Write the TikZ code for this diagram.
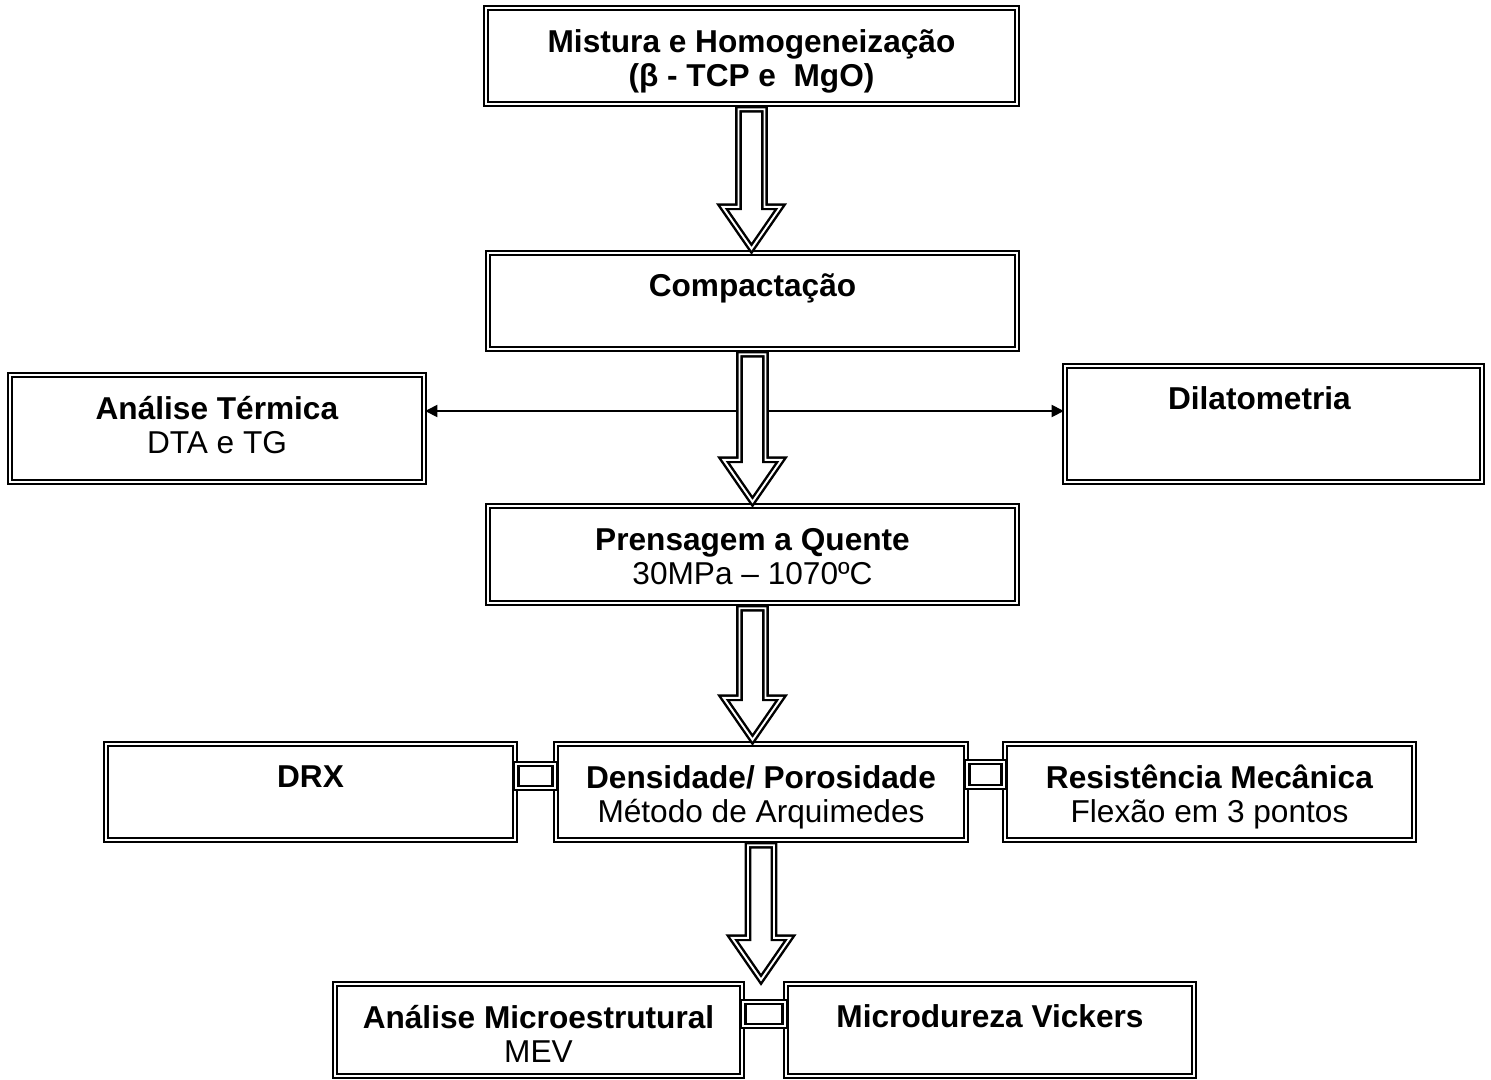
\documentclass[tikz,border=0pt]{standalone}
\usepackage{fontspec}
\setmainfont{Liberation Sans}
\usetikzlibrary{positioning,arrows.meta}
\usetikzlibrary{calc}

% hollow block arrow from the bottom of one box to the top of the next
\newcommand{\blockarrow}[2]{%
    \filldraw[hollow arrow]
        ($(#1.south)+(-13,4)$) -- ($(#1.south |- #2.north)+(-13,-45)$)
        -- ($(#1.south |- #2.north)+(-29,-45)$) -- ($(#1.south |- #2.north)+(0,-3)$)
        -- ($(#1.south |- #2.north)+(29,-45)$) -- ($(#1.south |- #2.north)+(13,-45)$)
        -- ($(#1.south)+(13,4)$) -- cycle;}

\begin{document}
\begin{tikzpicture}[
    x=0.02cm, y=-0.02cm,
    % Boxes
    step box/.style={
        draw,
        double,
        double distance=1.1pt,
        line width=1.4pt,
        fill=white,
        inner sep=0pt
    },
    % Box text
    box text/.style={
        align=center,
        inner sep=0pt,
        anchor=base,
        font=\fontsize{18}{19.7}\selectfont
    },
    % Block arrow
    hollow arrow/.style={
        double,
        double distance=1.1pt,
        line width=1.4pt,
        fill=white,
        line join=miter
    },
    % Thin arrow
    thin arrow/.style={
        -{Triangle[length=7pt,width=7pt]},
        line width=0.8pt
    },
    % Small link between boxes
    link bar/.style={
        double,
        double distance=1.1pt,
        line width=1.4pt
    }
]
\useasboundingbox (0,0) rectangle (1491,1079);

% Main column
\node[step box, minimum width=10.62cm, minimum height=1.92cm] (mix) at (751.5,56) {};
\node[step box, minimum width=10.58cm, minimum height=1.92cm] (compact) at (752.5,301) {};
\node[step box, minimum width=10.58cm, minimum height=1.94cm] (press) at (752.5,554.5) {};

% Side boxes
\node[step box, minimum width=8.28cm, minimum height=2.14cm] (thermal) at (217,428.5) {};
\node[step box, minimum width=8.34cm, minimum height=2.32cm] (dilat) at (1273.5,424) {};

% Test row
\node[step box, minimum width=8.18cm, minimum height=1.92cm] (drx) at (310.5,792) {};
\node[step box, minimum width=8.20cm, minimum height=1.92cm] (density) at (761,792) {};
\node[step box, minimum width=8.18cm, minimum height=1.92cm] (strength) at (1209.5,792) {};

% Bottom row
\node[step box, minimum width=8.14cm, minimum height=1.84cm] (micro) at (538.5,1030) {};
\node[step box, minimum width=8.16cm, minimum height=1.84cm] (hardness) at (990,1030) {};

% Texts (base = last line)
\node[box text] (mixtext) at ($(mix.north)+(0,80)$)
    {\textbf{Mistura e Homogeneização}\\\textbf{(β - TCP e~ MgO)}};
\node[box text] (compacttext) at ($(compact.north)+(0,45)$) {\textbf{Compactação}};
\node[box text] (presstext) at ($(press.north)+(0,80)$)
    {\textbf{Prensagem a Quente}\\30MPa – 1070ºC};
\node[box text] (thermaltext) at ($(thermal.north)+(0,80)$)
    {\textbf{Análise Térmica}\\DTA e TG};
\node[box text] (dilattext) at ($(dilat.north)+(-14,45)$) {\textbf{Dilatometria}};
\node[box text] (drxtext) at ($(drx.north)+(0,45)$) {\textbf{DRX}};
\node[box text] (densitytext) at ($(density.north)+(0,80)$)
    {\textbf{Densidade/ Porosidade}\\Método de Arquimedes};
\node[box text] (strengthtext) at ($(strength.north)+(0,80)$)
    {\textbf{Resistência Mecânica}\\Flexão em 3 pontos};
\node[box text] (microtext) at ($(micro.north)+(0,80)$)
    {\textbf{Análise Microestrutural}\\MEV};
\node[box text] (hardnesstext) at ($(hardness.north)+(0,45)$) {\textbf{Microdureza Vickers}};

% Side branches
\coordinate (split) at (757,411);
\draw[thin arrow] (split) -- (split -| thermal.east);
\draw[thin arrow] (split) -- (split -| dilat.west);

% Block arrows
\blockarrow{mix}{compact}
\blockarrow{compact}{press}
\blockarrow{press}{density}
\blockarrow{density}{micro}

% Links
\draw[link bar] ($(drx.east)+(0,-28)$) rectangle ($(density.west)+(0,-4)$);
\draw[link bar] ($(density.east)+(0,-30)$) rectangle ($(strength.west)+(0,-5)$);
\draw[link bar] ($(micro.east)+(0,-28)$) rectangle ($(hardness.west)+(0,-4)$);

\end{tikzpicture}
\end{document}
